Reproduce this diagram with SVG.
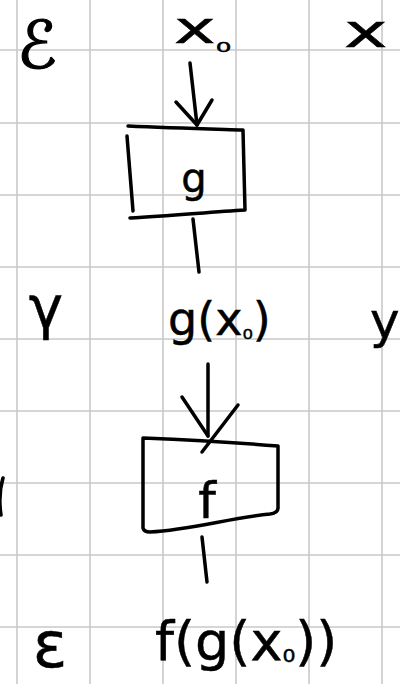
<svg xmlns="http://www.w3.org/2000/svg" width="400" height="684" viewBox="0 0 400 684">
<style>
.grid line{stroke:#c9c9c9;stroke-width:1.6}
.ink{fill:none;stroke:#000;stroke-width:3.5;stroke-linecap:round;stroke-linejoin:round}
.t{font-family:"DejaVu Sans",sans-serif;fill:#000;stroke:#000;stroke-width:0.5}
</style>
<rect width="400" height="684" fill="#fff"/>
<g class="grid">
<line x1="17" y1="0" x2="17" y2="684"/>
<line x1="90" y1="0" x2="90" y2="684"/>
<line x1="163" y1="0" x2="163" y2="684"/>
<line x1="236" y1="0" x2="236" y2="684"/>
<line x1="309" y1="0" x2="309" y2="684"/>
<line x1="382" y1="0" x2="382" y2="684"/>
<line x1="0" y1="50" x2="400" y2="50"/>
<line x1="0" y1="123" x2="400" y2="123"/>
<line x1="0" y1="195" x2="400" y2="195"/>
<line x1="0" y1="267" x2="400" y2="267"/>
<line x1="0" y1="339" x2="400" y2="339"/>
<line x1="0" y1="411" x2="400" y2="411"/>
<line x1="0" y1="483" x2="400" y2="483"/>
<line x1="0" y1="555" x2="400" y2="555"/>
<line x1="0" y1="627" x2="400" y2="627"/>
</g>
<g id="labels" class="t">
<text x="37" y="68" font-size="66" text-anchor="middle" stroke-width="1.2">ℰ</text>
<text transform="translate(174,43) scale(1.6,1)" font-size="44">x<tspan font-size="24" dy="9">₀</tspan></text>
<text transform="translate(344,47) scale(1.6,1)" font-size="46">x</text>
<text x="46" y="328" font-size="58" text-anchor="middle">γ</text>
<text x="370" y="338" font-size="50">y</text>
<text x="50" y="667" font-size="64" text-anchor="middle">ε</text>
</g>
<g id="g-box">
<path class="ink" d="M128,126 C170,128 210,129 243,130 L245,210 C210,212 170,216 130,218"/>
<path class="ink" d="M127,136 L133,211"/>
<text class="t" x="194" y="192" font-size="40" text-anchor="middle">g</text>
</g>
<g id="gx0-node">
<text class="t" x="168" y="335" font-size="46">g(x<tspan font-size="26" dy="4">₀</tspan><tspan dy="-4">)</tspan></text>
</g>
<g id="f-box">
<path class="ink" d="M143,438 C190,440 240,443 278,446 L278,508 Q278,513 270,514 C230,518 190,530 150,532 Q144,532 143,528 L143,438"/>
<text class="t" x="207" y="518" font-size="50" text-anchor="middle">f</text>
</g>
<g id="fgx0-node">
<text class="t" x="155" y="660" font-size="54">f(g(x<tspan font-size="32" dy="2">₀</tspan><tspan dy="-2">))</tspan></text>
</g>
<g id="connectors">
<path class="ink" d="M190,63 L197,125"/>
<path class="ink" d="M176,102 L197,125 L212,100"/>
<path class="ink" d="M193,219 L199,272"/>
<path class="ink" d="M208,364 L208,436"/>
<path class="ink" d="M182,397 L208,436"/>
<path class="ink" d="M238,405 L202,452"/>
<path class="ink" d="M202,537 L207,582"/>
<path class="ink" d="M3,478 Q-2,495 1,515"/>
</g>
</svg>
